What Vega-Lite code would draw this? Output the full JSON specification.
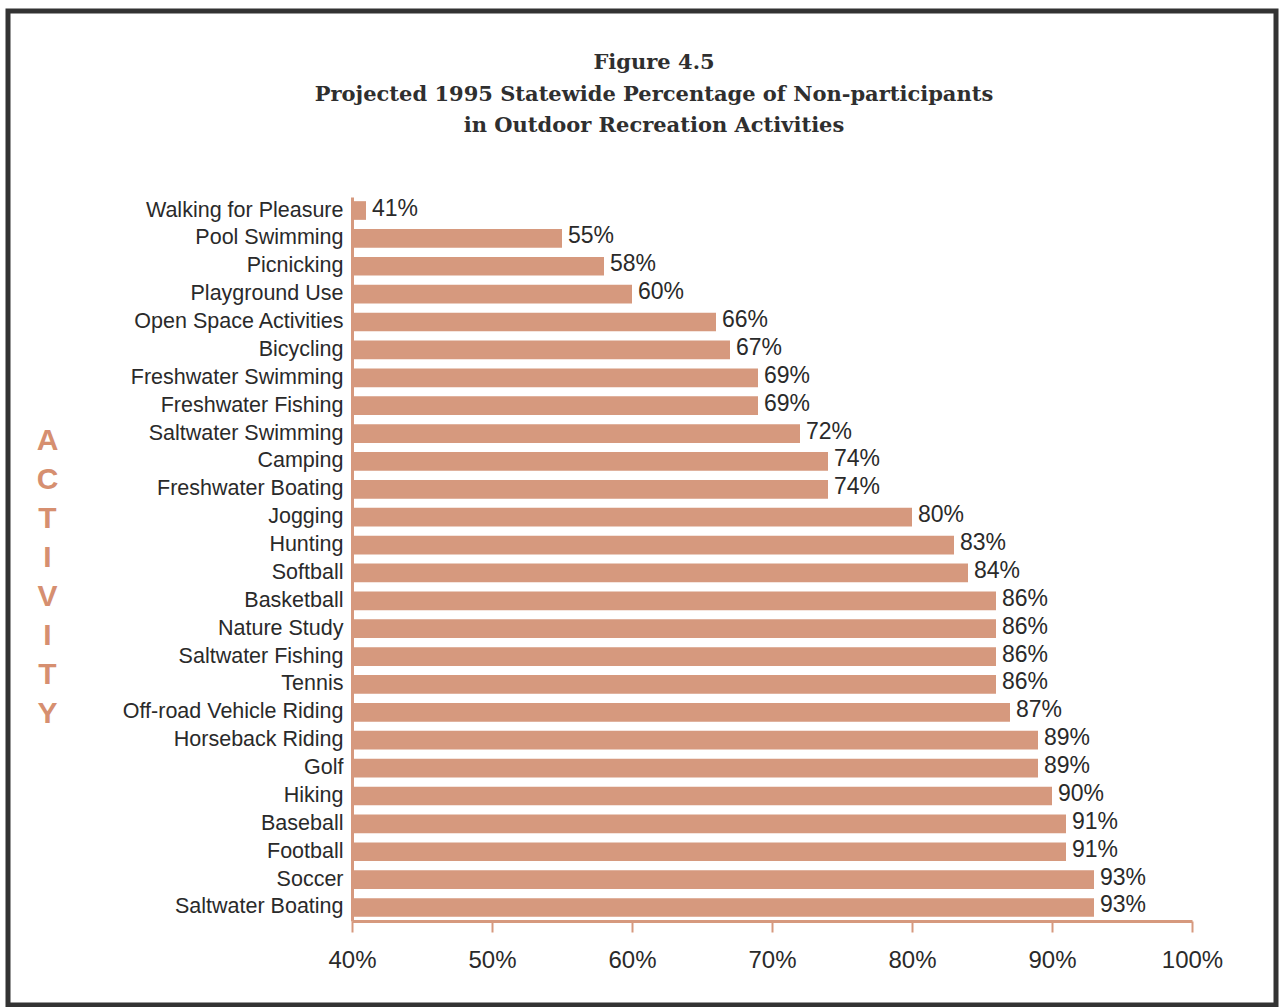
{
  "$schema": "https://vega.github.io/schema/vega-lite/v6.json",
  "width": 1268,
  "height": 994,
  "autosize": {"type": "none"},
  "padding": {"left": 8, "top": 11, "right": 8, "bottom": 2},
  "background": "white",
  "title": {
    "text": ["Figure 4.5", "Projected 1995 Statewide Percentage of Non-participants", "in Outdoor Recreation Activities"],
    "font": "DejaVu Serif",
    "fontWeight": "bold",
    "fontSize": 21,
    "lineHeight": 31.5,
    "color": "#2f2f2f",
    "anchor": "middle",
    "frame": "group",
    "baseline": "top",
    "offset": -125,
    "dx": 12
  },
  "data": {
    "values": [
      {"activity": "Walking for Pleasure", "pct": 41},
      {"activity": "Pool Swimming", "pct": 55},
      {"activity": "Picnicking", "pct": 58},
      {"activity": "Playground Use", "pct": 60},
      {"activity": "Open Space Activities", "pct": 66},
      {"activity": "Bicycling", "pct": 67},
      {"activity": "Freshwater Swimming", "pct": 69},
      {"activity": "Freshwater Fishing", "pct": 69},
      {"activity": "Saltwater Swimming", "pct": 72},
      {"activity": "Camping", "pct": 74},
      {"activity": "Freshwater Boating", "pct": 74},
      {"activity": "Jogging", "pct": 80},
      {"activity": "Hunting", "pct": 83},
      {"activity": "Softball", "pct": 84},
      {"activity": "Basketball", "pct": 86},
      {"activity": "Nature Study", "pct": 86},
      {"activity": "Saltwater Fishing", "pct": 86},
      {"activity": "Tennis", "pct": 86},
      {"activity": "Off-road Vehicle Riding", "pct": 87},
      {"activity": "Horseback Riding", "pct": 89},
      {"activity": "Golf", "pct": 89},
      {"activity": "Hiking", "pct": 90},
      {"activity": "Baseball", "pct": 91},
      {"activity": "Football", "pct": 91},
      {"activity": "Soccer", "pct": 93},
      {"activity": "Saltwater Boating", "pct": 93}
    ]
  },
  "transform": [
    {"calculate": "datum.pct + '%'", "as": "pct_label"}
  ],
  "encoding": {
    "y": {
      "field": "activity",
      "type": "nominal",
      "sort": null,
      "scale": {"range": [186, 910], "paddingInner": 0.33, "paddingOuter": 0.15},
      "axis": {
        "orient": "left",
        "offset": -344,
        "domain": true,
        "domainColor": "#d6997e",
        "domainWidth": 3,
        "ticks": false,
        "labelPadding": 9,
        "labelFont": "Liberation Sans",
        "labelFontSize": 21.5,
        "labelColor": "#2a2a2a",
        "labelLimit": 400,
        "title": ["A", "C", "T", "I", "V", "I", "T", "Y"],
        "titleAngle": 0,
        "titleX": -305,
        "titleY": 414,
        "titleAlign": "center",
        "titleBaseline": "top",
        "titleLineHeight": 39,
        "titleFont": "Liberation Sans",
        "titleFontSize": 30,
        "titleFontWeight": "bold",
        "titleColor": "#d68f70"
      }
    },
    "x": {
      "field": "pct",
      "type": "quantitative",
      "scale": {"domain": [40, 100], "range": [344, 1184], "zero": false, "nice": false},
      "axis": {
        "orient": "bottom",
        "offset": -84,
        "values": [40, 50, 60, 70, 80, 90, 100],
        "labelExpr": "datum.value + '%'",
        "labelFlush": false,
        "grid": false,
        "domainColor": "#d6997e",
        "domainWidth": 3,
        "tickColor": "#d6997e",
        "tickWidth": 2,
        "tickSize": 11,
        "labelPadding": 16,
        "labelFont": "Liberation Sans",
        "labelFontSize": 24,
        "labelColor": "#2a2a2a",
        "title": null
      }
    }
  },
  "layer": [
    {
      "mark": {"type": "bar", "color": "#d6997e"},
      "encoding": {
        "x2": {"datum": 40}
      }
    },
    {
      "mark": {
        "type": "text",
        "align": "left",
        "baseline": "middle",
        "dx": 6,
        "dy": -2,
        "font": "Liberation Sans",
        "fontSize": 23,
        "color": "#2a2a2a"
      },
      "encoding": {
        "text": {"field": "pct_label"}
      }
    }
  ],
  "config": {
    "view": {"stroke": "#333333", "strokeWidth": 5, "fill": "white"}
  }
}
